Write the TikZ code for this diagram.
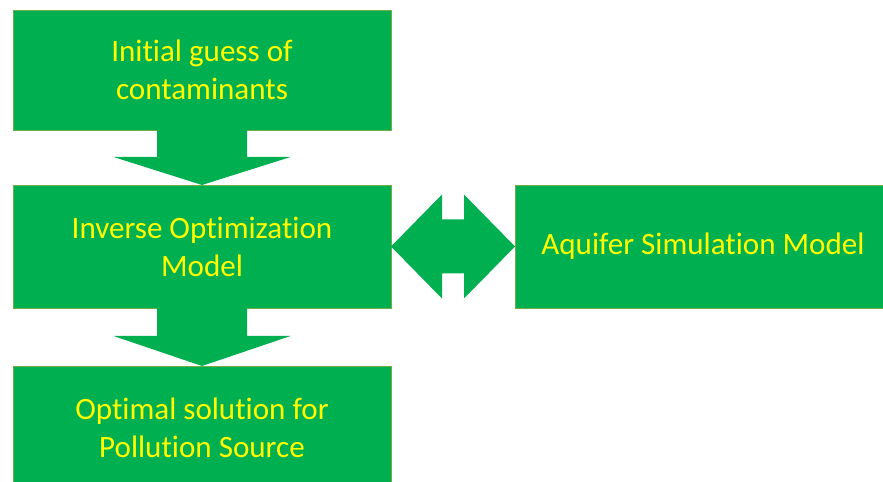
\documentclass[tikz,border=0pt]{standalone}
\usepackage{fontspec}
\setmainfont{Carlito}[Ligatures={NoCommon}]
\usetikzlibrary{positioning,calc}

\definecolor{boxgreen}{HTML}{00B050}
\definecolor{edgegreen}{HTML}{70AD47}
\definecolor{textyellow}{HTML}{FFFF00}

\begin{document}
\begin{tikzpicture}[box/.style={rectangle,fill=boxgreen,draw=edgegreen,line width=0.5pt,
                      minimum width=283.5pt,minimum height=92.25pt,outer sep=0pt,
                      text=textyellow,align=center,font=\fontsize{23.3}{28.5}\selectfont},
                    blockarrow/.style={fill=boxgreen}]

  \useasboundingbox (0,0) rectangle (662.25pt,361.5pt);

  \node[box,minimum height=90pt] (init) at (151.5pt,309pt) {Initial guess of\\contaminants};
  \node[box] (inv)  [below=41.25pt of init] {Inverse Optimization\\Model};
  \node[box] (opt)  [below=43.5pt of inv]   {Optimal solution for\\Pollution Source};
  \node[box,minimum width=282pt] (aqu) [right=93pt of inv] {Aquifer Simulation Model};

  % block arrows between the boxes
  \fill[blockarrow] ($(init.south)+(-33.75pt,0)$) -- ++(0,-20.25pt) -- ++(-32.6pt,0)
        -- (inv.north) -- ($(init.south)+(66.4pt,-20.25pt)$) -- ++(-32.65pt,0)
        -- ++(0,20.25pt) -- cycle;
  \fill[blockarrow] ($(inv.south)+(-33.75pt,0)$) -- ++(0,-21pt) -- ++(-32.6pt,0)
        -- (opt.north) -- ($(inv.south)+(66.4pt,-21pt)$) -- ++(-32.65pt,0)
        -- ++(0,21pt) -- cycle;
  \fill[blockarrow] (inv.east) -- ++(38.25pt,39pt) -- ++(0,-18.75pt)
        -- ($(aqu.west)+(-38.25pt,20.25pt)$) -- ++(0,18.75pt) -- (aqu.west)
        -- ++(-38.25pt,-39pt) -- ++(0,18.75pt) -- ($(inv.east)+(38.25pt,-20.25pt)$)
        -- ++(0,-18.75pt) -- cycle;
\end{tikzpicture}
\end{document}
